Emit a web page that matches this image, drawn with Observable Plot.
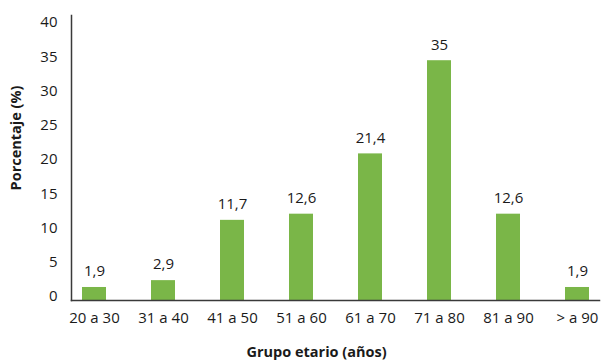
<!DOCTYPE html>
<html>
<head>
<meta charset="utf-8">
<script src="https://cdn.jsdelivr.net/npm/d3@7"></script>
<script src="https://cdn.jsdelivr.net/npm/@observablehq/plot@0.6"></script>
<style>
  html, body { margin: 0; padding: 0; background: #fff; }
  #chart svg { display: block; }
</style>
</head>
<body>
<div id="chart"></div>
<script>
const categories = ["20 a 30", "31 a 40", "41 a 50", "51 a 60", "61 a 70", "71 a 80", "81 a 90", "> a 90"];
const values = [1.9, 2.9, 11.7, 12.6, 21.4, 35, 12.6, 1.9];
const valueLabels = ["1,9", "2,9", "11,7", "12,6", "21,4", "35", "12,6", "1,9"];
const yTicks = [0, 5, 10, 15, 20, 25, 30, 35, 40];

const data = categories.map((c, i) => ({ group: c, value: values[i], label: valueLabels[i] }));

const font = "'Open Sans', sans-serif";
const green = "#7AB648";
const axisColor = "#3a3a3a";
const ink = "#1a1a1a";

const chart = Plot.plot({
  width: 610,
  height: 362,
  marginLeft: 71,
  marginRight: 11,
  marginTop: 15,
  marginBottom: 62,
  style: { fontFamily: font, fontSize: "15px", color: ink, background: "#fff" },
  x: { domain: categories, paddingInner: 0.654, paddingOuter: 0.13, label: null },
  y: { domain: [0, 41.6], label: null },
  marks: [
    Plot.barY(data, { x: "group", y: "value", fill: green }),
    Plot.text(data, { x: "group", y: "value", text: "label", dy: -16, fontSize: 15, fill: ink, fontFamily: font }),
    Plot.axisY({ ticks: yTicks, tickSize: 0, tickPadding: 14, dy: -4, label: null, fontSize: 15, fill: ink }),
    Plot.axisX({ tickSize: 0, tickPadding: 12, label: null, fontSize: 15, fill: ink }),
    Plot.frame({ anchor: "left", stroke: axisColor, strokeWidth: 1.5 }),
    Plot.frame({ anchor: "bottom", stroke: axisColor, strokeWidth: 1.5 }),
    Plot.text(["Porcentaje (%)"], { frameAnchor: "left", textAnchor: "middle", lineAnchor: "middle", rotate: -90, dx: -55, dy: -20, fontWeight: "bold", fontSize: 14.5, fill: ink, fontFamily: font }),
    Plot.text(["Grupo etario (años)"], { frameAnchor: "bottom", textAnchor: "middle", lineAnchor: "middle", dx: -19, dy: 52, fontWeight: "bold", fontSize: 14.5, fill: ink, fontFamily: font })
  ]
});

document.getElementById("chart").appendChild(chart);
</script>
</body>
</html>
